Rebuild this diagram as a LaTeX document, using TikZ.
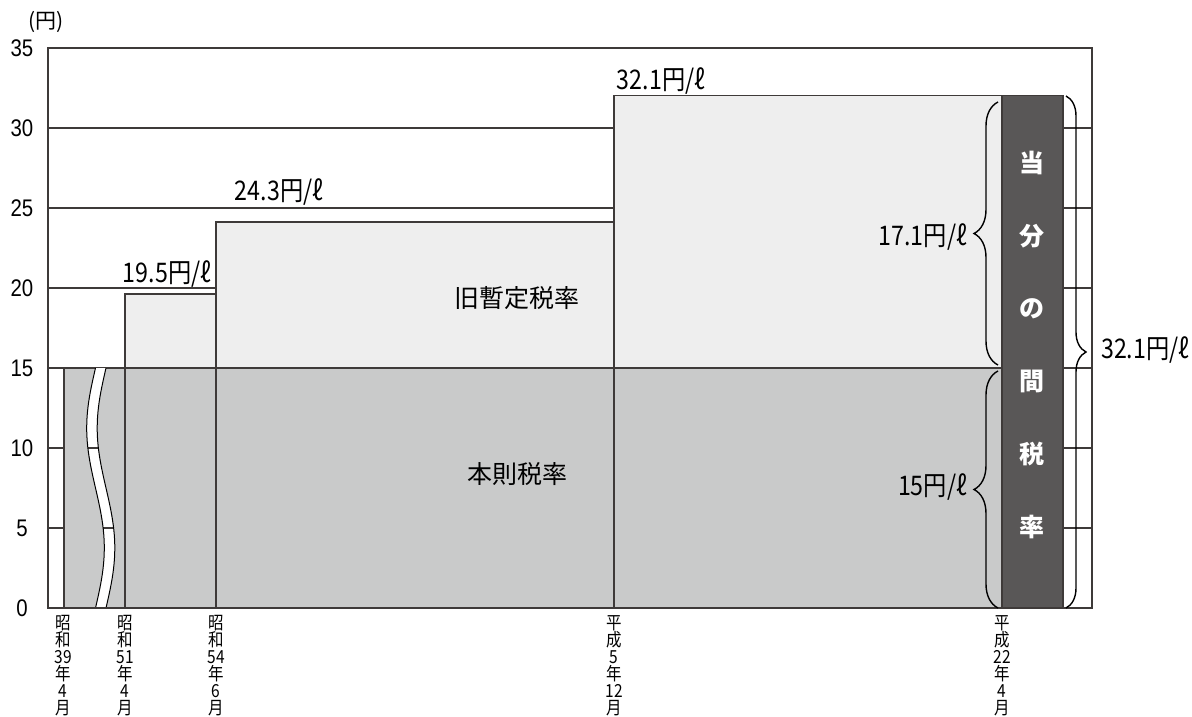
\documentclass[tikz,border=0pt]{standalone}
\usepackage{fontspec}
\setmainfont{Liberation Sans}
\newfontfamily\jp{Noto Sans CJK JP}
\newfontfamily\jpn[FakeStretch=0.86]{Noto Sans CJK JP}
\newfontfamily\axf[FakeStretch=0.85]{Liberation Sans}
\usetikzlibrary{decorations.pathreplacing}
\definecolor{lightbar}{HTML}{EEEEEE}
\definecolor{basebar}{HTML}{C9CACA}
\definecolor{darkbar}{HTML}{595757}
\definecolor{linec}{HTML}{3E3A39}
\begin{document}
\begin{tikzpicture}[x=1pt,y=-1pt,
  grid/.style={draw=linec,line width=1.1pt},
  barline/.style={draw=linec,line width=1.1pt},
  val/.style={font=\jpn\fontsize{27}{27}\selectfont,inner sep=0pt},
  axl/.style={font=\axf\fontsize{24}{24}\selectfont,inner sep=0pt},
  datel/.style={font=\jpn\fontsize{18}{17}\selectfont,align=center,anchor=north,inner sep=0pt},
  vt/.style={font=\jp\bfseries\fontsize{25}{25}\selectfont,text=white,inner sep=0pt},
  catl/.style={font=\jp\fontsize{25}{25}\selectfont,inner sep=0pt},
  brc/.style={decorate,decoration={brace,amplitude=#1},draw=black,line width=1.4pt}]
\useasboundingbox (0,0) rectangle (1192,717);
\fill[white] (0,0) rectangle (1192,717);
% grid
\foreach \v in {5,10,...,30}
  \draw[grid] (48,{608-16*\v}) -- (1092,{608-16*\v});
% light bars
\path[fill=lightbar,barline] (125,368) rectangle (216,294);
\path[fill=lightbar,barline] (216,368) rectangle (614,222);
\path[fill=lightbar,barline] (614,368) rectangle (1002,95.5);
% base
\path[fill=basebar,barline] (64,368) rectangle (1002,608);
\draw[barline] (125,368)--(125,608) (216,368)--(216,608) (614,368)--(614,608);
% wavy break
\path[fill=white] plot[domain=0:1,samples=50] ({95.5-8.8*sin(360*\x)},{368+240*\x})
   -- plot[domain=1:0,samples=50] ({106-8.8*sin(360*\x)},{368+240*\x}) -- cycle;
\begin{scope}
\clip plot[domain=0:1,samples=50] ({95.5-8.8*sin(360*\x)},{368+240*\x})
   -- plot[domain=1:0,samples=50] ({106-8.8*sin(360*\x)},{368+240*\x}) -- cycle;
\draw[grid] (48,448)--(200,448) (48,528)--(200,528);
\end{scope}
\draw[draw=black,line width=1pt] plot[domain=0:1,samples=50] ({95.5-8.8*sin(360*\x)},{368+240*\x});
\draw[draw=black,line width=1pt] plot[domain=0:1,samples=50] ({106-8.8*sin(360*\x)},{368+240*\x});
% dark box
\filldraw[fill=darkbar,draw=linec,line width=1.1pt] (1002,95.5) rectangle (1063,608);
% frame
\draw[draw=linec,line width=1.2pt] (48,48) rectangle (1092,608);
\draw[draw=linec,line width=1.8pt] (48,608) -- (1092,608);
% braces
\coordinate (b1s) at (998,365); \coordinate (b1e) at (998,102);
\coordinate (b2s) at (998,608); \coordinate (b2e) at (998,371);
\coordinate (b3s) at (1066,96); \coordinate (b3e) at (1066,608);
\draw[brc=24] (b1s) -- (b1e);
\draw[brc=24] (b2s) -- (b2e);
\draw[brc=20] (b3s) -- (b3e);
% axis labels
\node[font=\jp\fontsize{21}{21}\selectfont,inner sep=0pt] (yunit) at (46,22) {(円)};
\foreach \v in {0,5,...,35}
  \node[axl] (ax\v) at (22,{608-16*\v}) {\v};
% value labels
\node[val] (l195) at (167,274) {19.5円/ℓ};
\node[val] (l243) at (279,192) {24.3円/ℓ};
\node[val] (l321) at (661,81) {32.1円/ℓ};
\node[val,anchor=east] (l171) at (967,237) {17.1円/ℓ};
\node[val,anchor=east] (l15) at (967,487) {15円/ℓ};
\node[val,anchor=west] (l321b) at (1101,350) {32.1円/ℓ};
% category labels
\node[catl] (kyu) at (517,298) {旧暫定税率};
\node[catl] (honsoku) at (517,474) {本則税率};
% dark box text
\foreach \c [count=\i from 0] in {当,分,の,間,税,率}
  \node[vt] (t\i) at (1032,{163+72.8*\i}) {\c};
% date labels
\node[datel] (d1) at (63,615) {昭\\和\\39\\年\\4\\月};
\node[datel] (d2) at (125,615) {昭\\和\\51\\年\\4\\月};
\node[datel] (d3) at (216,615) {昭\\和\\54\\年\\6\\月};
\node[datel] (d4) at (614,615) {平\\成\\5\\年\\12\\月};
\node[datel] (d5) at (1002,615) {平\\成\\22\\年\\4\\月};
\end{tikzpicture}
\end{document}
